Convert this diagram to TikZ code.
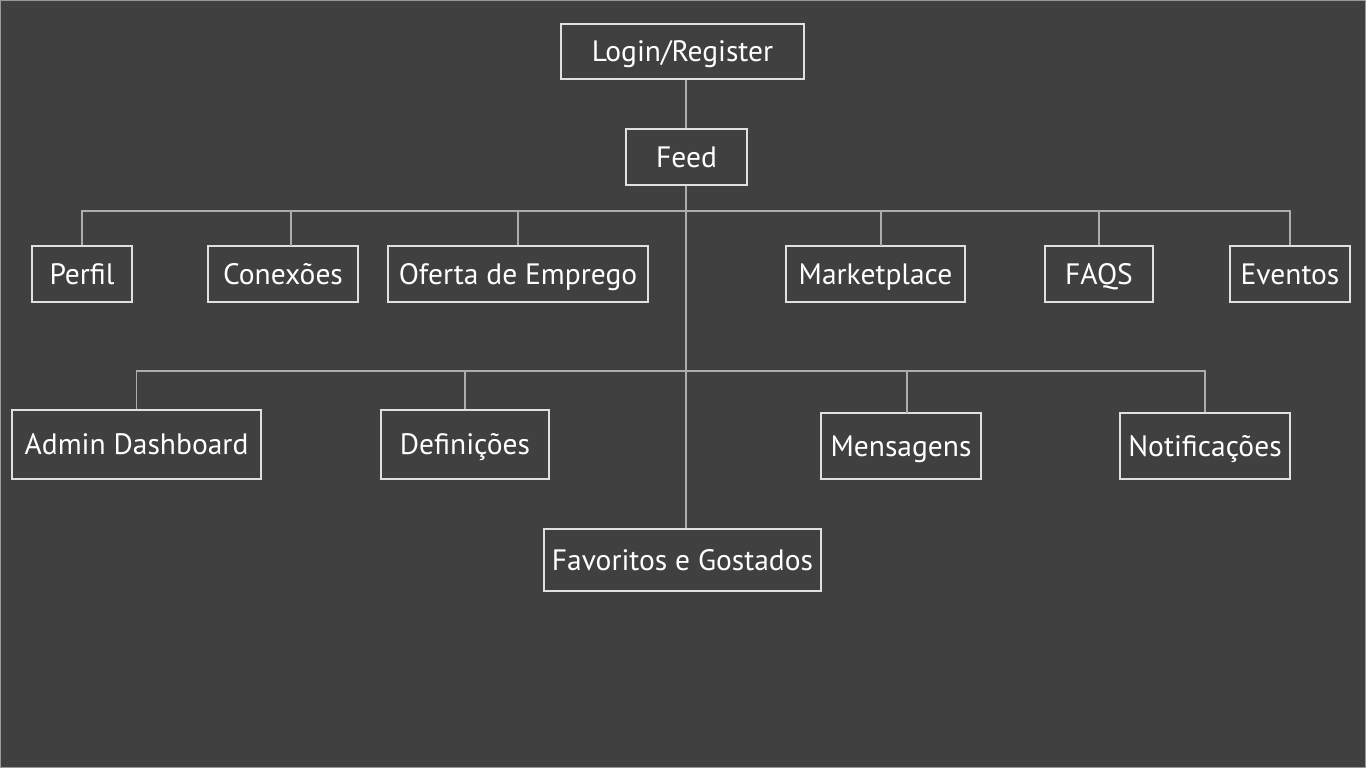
\documentclass[tikz,border=0pt]{standalone}
\usepackage{fontspec}
\setmainfont{PT Sans}
\begin{document}
\begin{tikzpicture}[x=1pt,y=-1pt,
  box/.style={draw=white!88!black, line width=1.1pt, text=white, inner sep=0pt,
    font=\fontsize{29.5}{34}\selectfont, text height=20pt, text depth=0pt, anchor=center},
  link/.style={draw=white!68!black, line width=1.4pt}]
\definecolor{bg}{HTML}{404040}
\fill[bg] (0,0) rectangle (1366,768);
\draw[white!60!black, line width=1pt] (0.5,0.5) rectangle (1365.5,767.5);
\useasboundingbox (0,0) rectangle (1366,768);
% level 0/1
\node[box, minimum width=243, minimum height=55] (login) at (682.5,51.5) {Login/Register};
\node[box, minimum width=121, minimum height=56] (feed) at (686.5,157) {Feed};
% level 2
\node[box, minimum width=100, minimum height=56] (perfil) at (82,274) {Perfil};
\node[box, minimum width=150, minimum height=56] (conexoes) at (283,274) {Conexões};
\node[box, minimum width=260, minimum height=56] (oferta) at (518,274) {Oferta de Emprego};
\node[box, minimum width=179, minimum height=56] (market) at (875.5,274) {Marketplace};
\node[box, minimum width=108, minimum height=56] (faqs) at (1099,274) {FAQS};
\node[box, minimum width=120, minimum height=56] (eventos) at (1290,274) {Eventos};
% level 3
\node[box, minimum width=249, minimum height=69] (admin) at (136.5,444.5) {Admin Dashboard};
\node[box, minimum width=168, minimum height=69] (defin) at (465,444.5) {Definições};
\node[box, minimum width=160, minimum height=66] (mens) at (901,446) {Mensagens};
\node[box, minimum width=170, minimum height=66] (notif) at (1205,446) {Notificações};
% bottom
\node[box, minimum width=277, minimum height=62] (fav) at (682.5,560) {Favoritos e Gostados};
% buses
\coordinate (busA) at (686,211);
\coordinate (busB) at (686,371);
\coordinate (conTop) at (291,246);
\coordinate (mkTop) at (881,246);
\coordinate (mensTop) at (907,413);
% connectors
\draw[link] (login.south -| busA) -- (feed.north -| busA);
\draw[link] (feed.south -| busA) -- (fav.north -| busA);
\draw[link] (perfil.north) -- (perfil.north |- busA) -- (eventos.north |- busA) -- (eventos.north);
\draw[link] (conTop) -- (conTop |- busA);
\draw[link] (oferta.north) -- (oferta.north |- busA);
\draw[link] (mkTop) -- (mkTop |- busA);
\draw[link] (faqs.north) -- (faqs.north |- busA);
\draw[link] (admin.north) -- (admin.north |- busB) -- (notif.north |- busB) -- (notif.north);
\draw[link] (defin.north) -- (defin.north |- busB);
\draw[link] (mensTop) -- (mensTop |- busB);
\end{tikzpicture}
\end{document}
